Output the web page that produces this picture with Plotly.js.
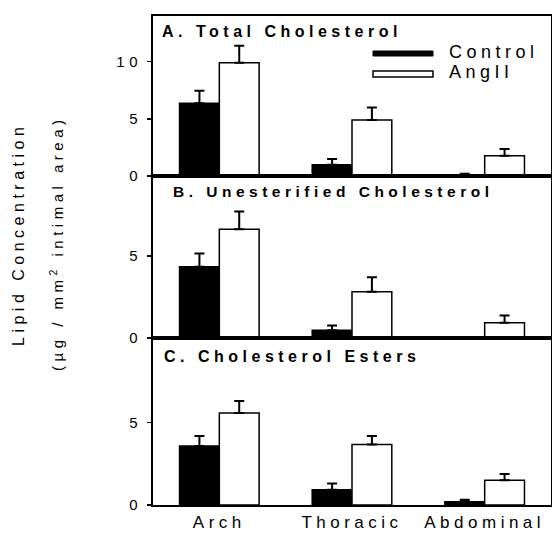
<!DOCTYPE html>
<html>
<head>
<meta charset="utf-8">
<script src="https://cdn.plot.ly/plotly-3.0.1.min.js"></script>
<style>
html,body{margin:0;padding:0;background:#fff;}
text{letter-spacing:4.5px;}
</style>
</head>
<body>
<div id="chart" style="width:552px;height:533px;"></div>
<script>
// ---- data ----
var categories = ['Arch', 'Thoracic', 'Abdominal'];

var totalControl     = [6.36, 0.99, 0.10];
var totalControlErr  = [1.10, 0.50, 0.10];
var totalAngII       = [9.91, 4.90, 1.78];
var totalAngIIErr    = [1.49, 1.10, 0.58];

var unestControl     = [4.35, 0.47, 0];
var unestControlErr  = [0.81, 0.30, 0];
var unestAngII       = [6.63, 2.82, 0.93];
var unestAngIIErr    = [1.09, 0.88, 0.45];

var esterControl     = [3.58, 0.93, 0.20];
var esterControlErr  = [0.61, 0.37, 0.12];
var esterAngII       = [5.59, 3.68, 1.50];
var esterAngIIErr    = [0.72, 0.51, 0.38];

var seriesNames = ['Control', 'AngII'];
var panelTitles = ['A. Total Cholesterol', 'B. Unesterified Cholesterol', 'C. Cholesterol Esters'];
var yTickValsA = [0, 5, 10];
var yTickValsB = [0, 5];
var yTickValsC = [0, 5];
var yTitle1 = 'Lipid Concentration';
var yTitle2 = '(\u00b5g / mm<sup>2</sup> intimal area)';

// ---- build ----
var FONT = 'Liberation Sans, Arial, Helvetica, sans-serif';
function barTrace(vals, errs, isControl, xa, ya) {
  return {
    type: 'bar', x: categories, y: vals, xaxis: xa, yaxis: ya,
    name: isControl ? seriesNames[0] : seriesNames[1], showlegend: false,
    marker: {color: isControl ? '#000' : '#fff', line: {color: '#000', width: 1.5}},
    error_y: {type: 'data', array: errs, arrayminus: vals.map(function(){return 0;}),
              symmetric: false, color: '#000', thickness: 2, width: 5},
    hoverinfo: 'skip'
  };
}
var data = [
  barTrace(totalControl, totalControlErr, true, 'x', 'y'),
  barTrace(totalAngII, totalAngIIErr, false, 'x', 'y'),
  barTrace(unestControl, unestControlErr, true, 'x2', 'y2'),
  barTrace(unestAngII, unestAngIIErr, false, 'x2', 'y2'),
  barTrace(esterControl, esterControlErr, true, 'x3', 'y3'),
  barTrace(esterAngII, esterAngIIErr, false, 'x3', 'y3')
];

function xAx(anchor, showLabels) {
  return {
    anchor: anchor, type: 'category', range: [-0.5, 2.5],
    showline: true, mirror: true, linecolor: '#000', linewidth: 2,
    showgrid: false, zeroline: false, ticks: '',
    showticklabels: showLabels, ticklabelstandoff: 1,
    tickfont: {family: FONT, size: 17, color: '#000'}
  };
}
function yAx(anchor, domain, range, tickvals) {
  return {
    anchor: anchor, domain: domain, range: range, tickvals: tickvals,
    showline: true, mirror: true, linecolor: '#000', linewidth: 2,
    showgrid: false, zeroline: false, ticks: 'outside', ticklen: 4, tickwidth: 1.5, tickcolor: '#000',
    ticklabelstandoff: 2,
    tickfont: {family: FONT, size: 15, color: '#000'}
  };
}

var L = 153, R = 551, T = 16, B = 505;
function px(p) { return (p - L) / (R - L); }
function py(p) { return (B - p) / (B - T); }

var layout = {
  width: 552, height: 533,
  margin: {l: 153, r: 1, t: 16, b: 28},
  paper_bgcolor: '#fff', plot_bgcolor: '#fff',
  barmode: 'group', bargap: 0.4, bargroupgap: 0,
  showlegend: false,
  xaxis: xAx('y', false),
  xaxis2: xAx('y2', false),
  xaxis3: xAx('y3', true),
  yaxis: yAx('x', [0.6728, 1], [0, 14.0], yTickValsA),
  yaxis2: yAx('x2', [0.3415, 0.6728], [0, 9.88], yTickValsB),
  yaxis3: yAx('x3', [0, 0.3415], [0, 10.14], yTickValsC),
  shapes: [
    {type: 'rect', xref: 'paper', yref: 'paper', x0: px(373), x1: px(433), y0: py(56), y1: py(51),
     fillcolor: '#000', line: {color: '#000', width: 1}},
    {type: 'rect', xref: 'paper', yref: 'paper', x0: px(373), x1: px(433), y0: py(77), y1: py(71),
     fillcolor: '#fff', line: {color: '#000', width: 1.5}}
  ],
  annotations: [
    {text: panelTitles[0], xref: 'paper', yref: 'paper', x: px(160), y: py(31), xanchor: 'left', yanchor: 'middle',
     showarrow: false, font: {family: FONT, size: 16, color: '#000', weight: 'bold'}},
    {text: panelTitles[1], xref: 'paper', yref: 'paper', x: px(171), y: py(191), xanchor: 'left', yanchor: 'middle',
     showarrow: false, font: {family: FONT, size: 15.5, color: '#000', weight: 'bold'}},
    {text: panelTitles[2], xref: 'paper', yref: 'paper', x: px(162), y: py(356), xanchor: 'left', yanchor: 'middle',
     showarrow: false, font: {family: FONT, size: 16, color: '#000', weight: 'bold'}},
    {text: seriesNames[0], xref: 'paper', yref: 'paper', x: px(447), y: py(52), xanchor: 'left', yanchor: 'middle',
     showarrow: false, font: {family: FONT, size: 18, color: '#000'}},
    {text: seriesNames[1], xref: 'paper', yref: 'paper', x: px(447), y: py(72), xanchor: 'left', yanchor: 'middle',
     showarrow: false, font: {family: FONT, size: 18, color: '#000'}},
    {text: yTitle1, xref: 'paper', yref: 'paper', x: px(19), y: py(235), xanchor: 'center', yanchor: 'middle',
     textangle: -90, showarrow: false, font: {family: FONT, size: 16, color: '#000'}},
    {text: yTitle2, xref: 'paper', yref: 'paper', x: px(56), y: py(243), xanchor: 'center', yanchor: 'middle',
     textangle: -90, showarrow: false, font: {family: FONT, size: 15, color: '#000'}}
  ]
};

Plotly.newPlot('chart', data, layout, {staticPlot: true, displayModeBar: false});
</script>
</body>
</html>
